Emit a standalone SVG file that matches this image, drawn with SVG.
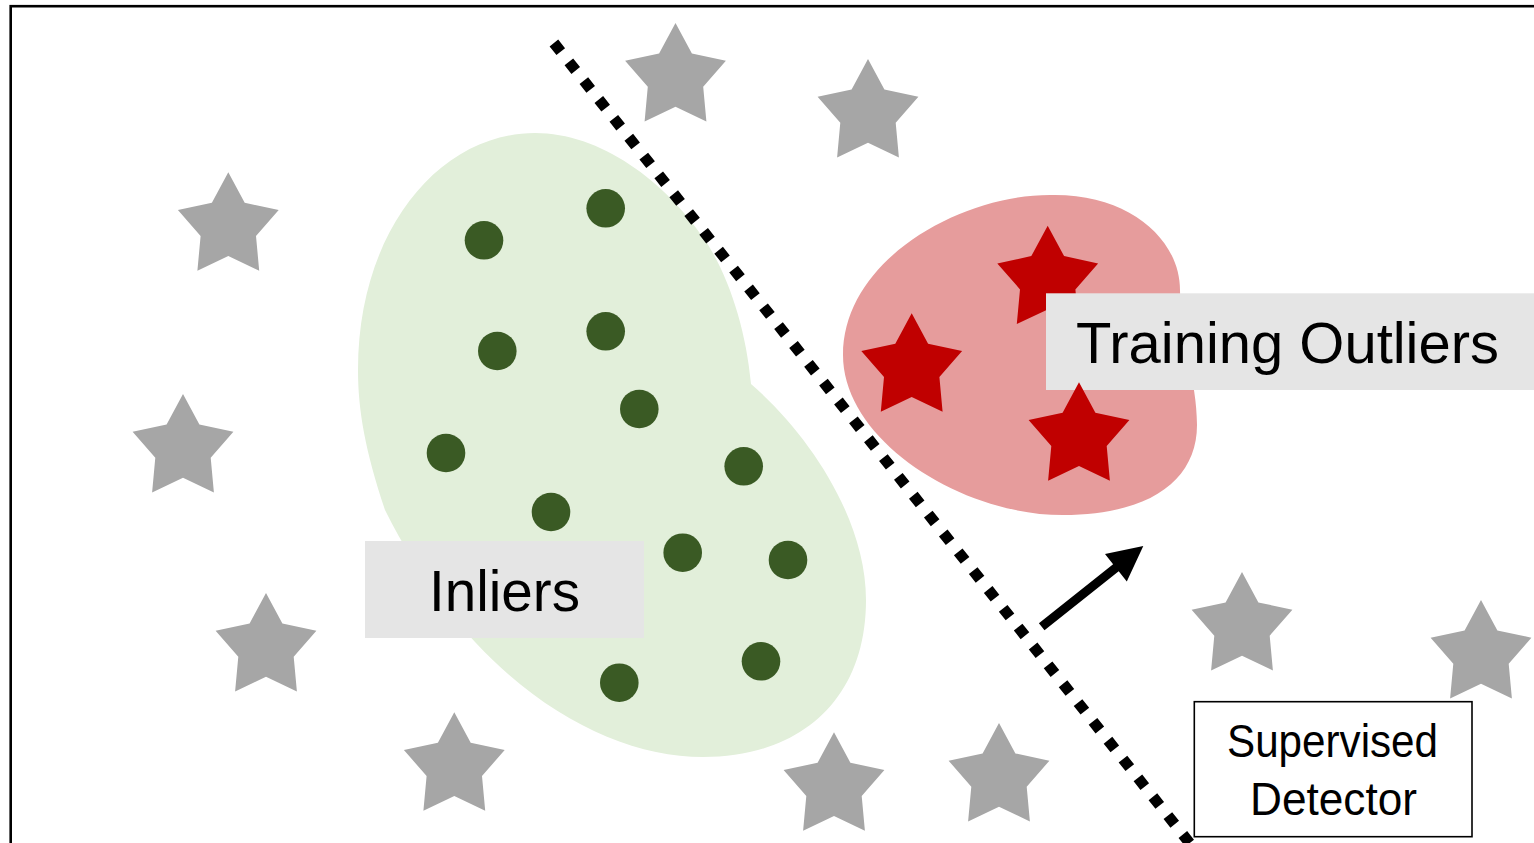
<svg xmlns="http://www.w3.org/2000/svg" xmlns:xlink="http://www.w3.org/1999/xlink" width="1534" height="843" viewBox="0 0 1534 843">
  <style>
    .gstar { fill: #a6a6a6; }
    .rstar { fill: #c00000; }
    .dot { fill: #3a5a24; }
    .label-bg { fill: #e5e5e5; }
    .label { font-family: "Liberation Sans", Arial, sans-serif; fill: #000; }
  </style>
  <defs>
    <path id="star" d="M0,0 L16.4,30.4 L50.4,37.7 L27.7,63.7 L30.9,98.4 L0,83.7 L-30.9,98.4 L-27.7,63.7 L-50.4,37.7 L-16.4,30.4 Z"/>
  </defs>
  <rect x="0" y="0" width="1534" height="843" fill="#ffffff"/>
  <g id="frame">
    <rect x="10.7" y="6.2" width="1600" height="900" fill="none" stroke="#000" stroke-width="2.6"/>
  </g>

  <g id="inliers-cluster">
    <path d="M535,133 C600,133 665,180 707,243 C730,280 746,330 751,384 C810,435 866,520 866,600 C866,700 800,757 703,757 C600,757 470,680 385,510 C365,450 358,410 358,370 C358,230 440,133 535,133 Z" fill="#e2efda"/>
    <circle class="dot" cx="605.7" cy="208.3" r="19.3"/>
    <circle class="dot" cx="484" cy="240.3" r="19.3"/>
    <circle class="dot" cx="605.7" cy="331.3" r="19.3"/>
    <circle class="dot" cx="497.3" cy="351" r="19.3"/>
    <circle class="dot" cx="639.3" cy="409" r="19.3"/>
    <circle class="dot" cx="446" cy="453" r="19.3"/>
    <circle class="dot" cx="743.7" cy="466.3" r="19.3"/>
    <circle class="dot" cx="551" cy="512" r="19.3"/>
    <circle class="dot" cx="682.7" cy="552.7" r="19.3"/>
    <circle class="dot" cx="788" cy="560" r="19.3"/>
    <circle class="dot" cx="761" cy="661.3" r="19.3"/>
    <circle class="dot" cx="619.3" cy="682.7" r="19.3"/>
  </g>

  <g id="inliers-label">
    <rect class="label-bg" x="365" y="541" width="279" height="97"/>
    <text class="label" x="429" y="611" font-size="57" textLength="151" lengthAdjust="spacingAndGlyphs">Inliers</text>
  </g>

  <g id="outliers-cluster">
    <path d="M1050,195 C1130,193 1180,240 1180,290 C1180,340 1197,380 1197,425 C1197,480 1150,515 1063,515 C960,515 843,440 843,355 C843,260 960,195 1050,195 Z" fill="#e69c9c"/>
    <use href="#star" xlink:href="#star" class="rstar" x="1047.7" y="225.7"/>
    <use href="#star" xlink:href="#star" class="rstar" x="911.7" y="313.3"/>
  </g>

  <g id="outliers-label">
    <rect class="label-bg" x="1046" y="293.3" width="490" height="96.7"/>
    <text class="label" x="1076" y="363" font-size="57" textLength="423" lengthAdjust="spacingAndGlyphs">Training Outliers</text>
  </g>

  <g id="outlier-star-3">
    <use href="#star" xlink:href="#star" class="rstar" x="1079" y="382.3"/>
  </g>

  <g id="unseen-outliers">
    <use href="#star" xlink:href="#star" class="gstar" x="675.5" y="23"/>
    <use href="#star" xlink:href="#star" class="gstar" x="868" y="59"/>
    <use href="#star" xlink:href="#star" class="gstar" x="228.3" y="172.3"/>
    <use href="#star" xlink:href="#star" class="gstar" x="183" y="394"/>
    <use href="#star" xlink:href="#star" class="gstar" x="266" y="593"/>
    <use href="#star" xlink:href="#star" class="gstar" x="454.3" y="712.3"/>
    <use href="#star" xlink:href="#star" class="gstar" x="834" y="732.3"/>
    <use href="#star" xlink:href="#star" class="gstar" x="999" y="723"/>
    <use href="#star" xlink:href="#star" class="gstar" x="1242" y="572"/>
    <use href="#star" xlink:href="#star" class="gstar" x="1481" y="600"/>
  </g>

  <g id="connectors">
    <line x1="553.9" y1="43" x2="1194" y2="848.5" stroke="#000" stroke-width="11" stroke-dasharray="11 13.07"/>
    <polygon points="1038.9,623.2 1113.1,564.3 1105,554.1 1143.3,546 1126.8,581.5 1118.7,571.3 1044.5,630.2" fill="#000"/>
  </g>

  <g id="supervised-detector">
    <rect x="1194.3" y="701.7" width="277.7" height="135" fill="#fff" stroke="#000" stroke-width="1.6"/>
    <text class="label" x="1227" y="757" font-size="46" textLength="211" lengthAdjust="spacingAndGlyphs">Supervised</text>
    <text class="label" x="1250" y="815" font-size="46" textLength="167" lengthAdjust="spacingAndGlyphs">Detector</text>
  </g>
</svg>
